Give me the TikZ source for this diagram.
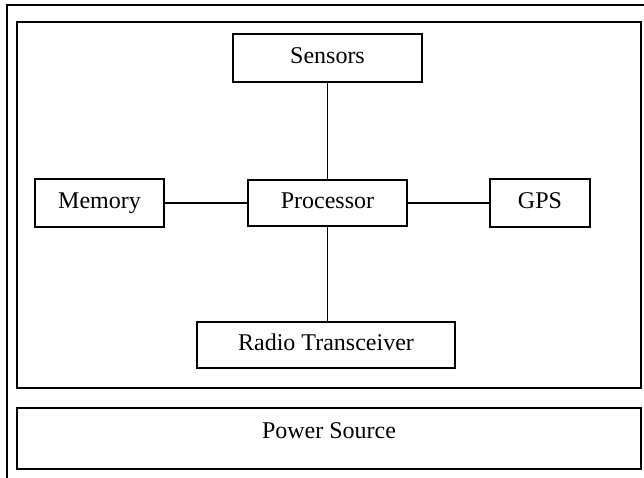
\documentclass[tikz,border=0pt]{standalone}
\usepackage{fontspec}
\setmainfont{Liberation Serif}
\begin{document}
\begin{tikzpicture}[x=0.75pt,y=-0.75pt,
  box/.style={draw=black,line width=1.5pt,rectangle,inner sep=0pt,fill=white,
    font=\fontsize{18}{21}\selectfont,text height=0.8em,text depth=0em},
  conn/.style={draw=black,line width=1.2pt}]
\useasboundingbox (0,0) rectangle (644,478);
\coordinate (ob) at (7,478);
\coordinate (oc) at (7,5);
\coordinate (oe) at (644,5);
\draw[line width=1.5pt] (ob) -- (oc) -- (oe);
\node[box,minimum width=624*0.75pt,minimum height=366*0.75pt] (inner) at (329,205) {};
\node[box,minimum width=624*0.75pt,minimum height=61*0.75pt,text height=0.7em,text depth=0.7em] (power) at (329,438.5) {Power Source};
\node[box,minimum width=189*0.75pt,minimum height=48*0.75pt] (sensors) at (327.5,58) {Sensors};
\node[box,minimum width=129*0.75pt,minimum height=48*0.75pt] (memory) at (99.5,203) {Memory};
\node[box,minimum width=159*0.75pt,minimum height=46*0.75pt] (proc) at (327.5,203) {Processor};
\node[box,minimum width=100*0.75pt,minimum height=48*0.75pt] (gps) at (540,203) {GPS};
\node[box,minimum width=258*0.75pt,minimum height=46*0.75pt] (radio) at (326,345) {Radio Transceiver};
\draw[conn] (sensors.south) -- (proc.north);
\draw[conn] (memory.east) -- (proc.west);
\draw[conn] (proc.east) -- (gps.west);
\draw[conn] (proc.south) -- (proc.south |- radio.north);
\end{tikzpicture}
\end{document}
